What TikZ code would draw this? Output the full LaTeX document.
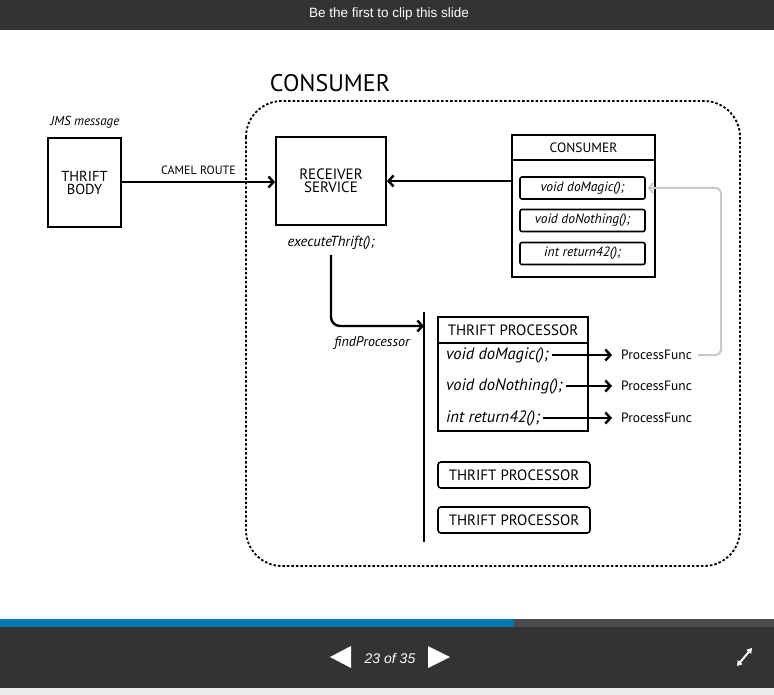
\documentclass[tikz,border=0pt]{standalone}
\usepackage{fontspec}
\setmainfont{Liberation Sans}
\newfontfamily\hand{PT Sans}
\usetikzlibrary{arrows.meta}
\definecolor{barbg}{HTML}{333333}
\definecolor{progblue}{HTML}{0077B5}
\definecolor{proggray}{HTML}{4A4A4A}
\definecolor{footgray}{HTML}{ECECEC}
\definecolor{linkgray}{HTML}{C8C8C8}
\begin{document}
\begin{tikzpicture}[x=1pt,y=-1pt,
  box/.style={draw=black,line width=1.8pt,inner sep=0pt,align=center},
  ibox/.style={draw=black,line width=1.6pt,rounded corners=2pt,inner sep=0pt,minimum width=125pt,minimum height=22pt,font=\hand\itshape\fontsize{13.5}{13.5}\selectfont},
  pbox/.style={draw=black,line width=1.6pt,rounded corners=3pt,inner sep=0pt,minimum width=152pt,minimum height=26pt,font=\hand\fontsize{15}{15}\selectfont},
  conn/.style={line width=2.4pt,-{Straight Barb[length=5pt,width=11pt,line width=2.4pt]}},
  grayconn/.style={draw=linkgray,line width=2pt,rounded corners=5pt,-{Straight Barb[length=4pt,width=10pt,line width=2pt]}},
  item/.style={anchor=west,inner sep=0pt,font=\hand\itshape\fontsize{16.5}{16.5}\selectfont},
  pf/.style={anchor=west,inner sep=0pt,font=\hand\fontsize{13.5}{13.5}\selectfont},
  lbl/.style={inner sep=0pt,font=\hand\fontsize{#1}{#1}\selectfont},
  ilbl/.style={inner sep=0pt,font=\hand\itshape\fontsize{#1}{#1}\selectfont}
]
\useasboundingbox (0,0) rectangle (774,695);
% page chrome
\fill[white] (0,0) rectangle (774,695);
\fill[barbg] (0,0) rectangle (774,30);
\node[text=white,font=\fontsize{13.5}{13.5}\selectfont,inner sep=0pt] (cliptxt) at (389,14) {Be the first to clip this slide};
\fill[progblue] (0,619) rectangle (514,627);
\fill[proggray] (514,619) rectangle (774,627);
\fill[barbg] (0,627) rectangle (774,688);
\fill[footgray] (0,688) rectangle (774,695);
\fill[white] (330,657) -- (351,646) -- (351,668) -- cycle;
\fill[white] (428,646) -- (428,668) -- (450,657) -- cycle;
\node[text=white,font=\itshape\fontsize{14}{14}\selectfont,inner sep=0pt] (pagenum) at (390,658) {23 of 35};
\draw[white,line width=2pt,{Triangle[length=5pt,width=6pt]}-{Triangle[length=5pt,width=6pt]}] (737,666) -- (752,648);

% diagram
\node[lbl=24] (title) at (330,83) {CONSUMER};
\draw[line width=1.8pt,dash pattern=on 2.5pt off 2pt,rounded corners=36pt] (246,101) rectangle (740,566);

\node[ilbl=13] (jms) at (85,122) {JMS message};
\node[box,minimum width=73pt,minimum height=89pt,font=\hand\fontsize{14.5}{13}\selectfont] (body) at (84.5,182.5) {THRIFT\\BODY};
\node[box,minimum width=110pt,minimum height=88pt,font=\hand\fontsize{15}{13.5}\selectfont] (recv) at (331,181) {RECEIVER\\SERVICE};
\draw[conn] (body.east |- 0,182) -- node[above=6pt,lbl=12]{CAMEL ROUTE} (recv.west |- 0,182);

\node[box,minimum width=143pt,minimum height=142pt] (cons) at (583.5,206) {};
\draw[line width=1.8pt] (512,160) -- (655,160);
\node[lbl=13.5] (conshead) at (583.5,148) {CONSUMER};
\node[ibox] (m1) at (582.5,188) {void doMagic();};
\node[ibox] (m2) at (582.5,220.5) {void doNothing();};
\node[ibox] (m3) at (582.5,253.5) {int return42();};
\draw[conn] (cons.west |- 0,181) -- (recv.east |- 0,181);

\node[ilbl=14.5] (exec) at (331,243) {executeThrift();};
\coordinate (bartop) at (424,312);
\coordinate (barbot) at (424,542);
\coordinate (barhit) at (424,326);
\draw[line width=2.6pt] (bartop) -- (barbot);
\draw[conn,rounded corners=9pt] (331,255) |- (barhit);
\node[ilbl=14] (find) at (372,343) {findProcessor};

\node[box,minimum width=150pt,minimum height=114pt] (proc) at (513,374) {};
\draw[line width=1.8pt] (438,343) -- (588,343);
\node[lbl=15] (prochead) at (513,330) {THRIFT PROCESSOR};
\node[item] (p1) at (446,355) {void doMagic();};
\node[item] (p2) at (446,386) {void doNothing();};
\node[item] (p3) at (446,418) {int return42();};
\node[pf] (f1) at (621,355) {ProcessFunc};
\node[pf] (f2) at (621,386) {ProcessFunc};
\node[pf] (f3) at (621,418) {ProcessFunc};
\draw[conn] ([xshift=3pt]p1.east) -- ([xshift=-9pt]f1.west);
\draw[conn] ([xshift=3pt]p2.east) -- ([xshift=-9pt]f2.west);
\draw[conn] ([xshift=3pt]p3.east) -- ([xshift=-9pt]f3.west);
\draw[grayconn] ([xshift=6pt]f1.east) -- (721,355) |- ([xshift=2pt]m1.east);

\node[pbox] (proc2) at (514,475) {THRIFT PROCESSOR};
\node[pbox] (proc3) at (514,520) {THRIFT PROCESSOR};
\end{tikzpicture}
\end{document}
